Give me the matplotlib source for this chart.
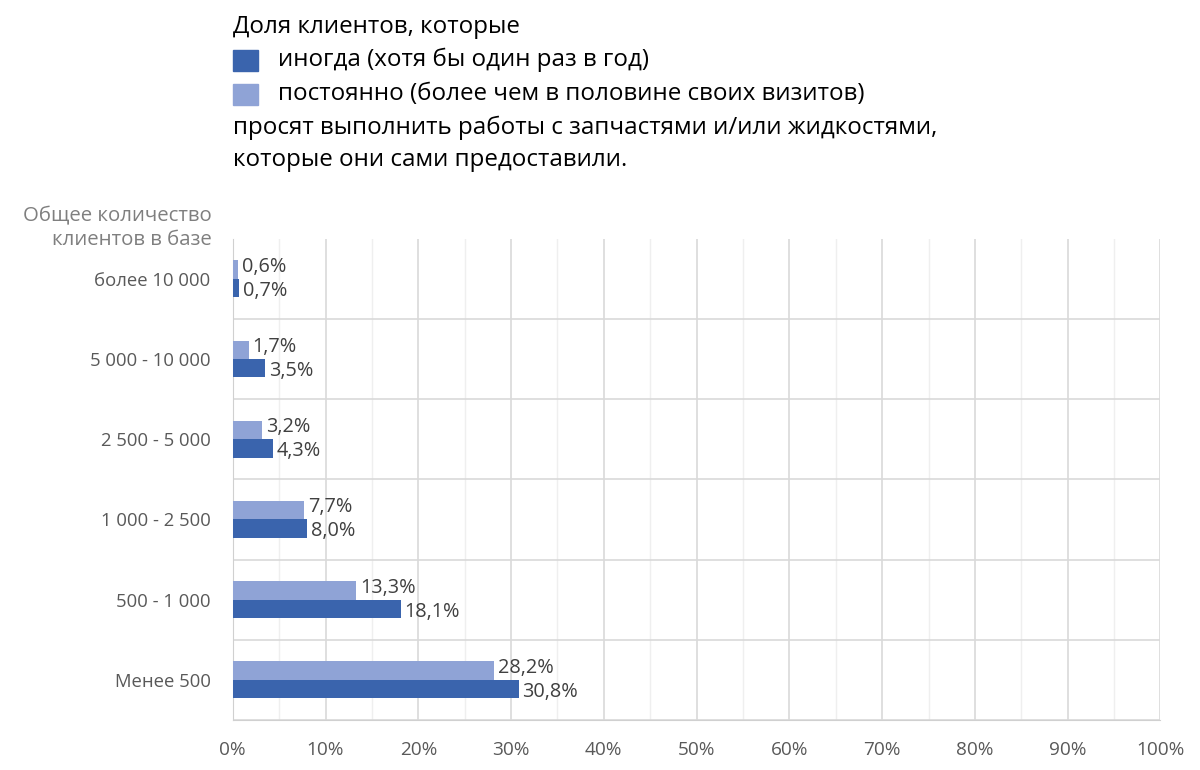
import matplotlib.pyplot as plt
import matplotlib.patches as mpatches
from matplotlib.ticker import MultipleLocator, FuncFormatter

# ---- данные ----
categories = ["более 10 000", "5 000 - 10 000", "2 500 - 5 000",
              "1 000 - 2 500", "500 - 1 000", "Менее 500"]
sometimes = [0.7, 3.5, 4.3, 8.0, 18.1, 30.8]   # иногда
constantly = [0.6, 1.7, 3.2, 7.7, 13.3, 28.2]  # постоянно

DARK = "#3a64ad"
LIGHT = "#8fa3d6"
GRAY = "#595959"

plt.rcParams["font.family"] = ["Open Sans", "DejaVu Sans"]

fig = plt.figure(figsize=(12, 7.7), dpi=100)
ax = fig.add_axes([0.194, 0.065, 0.773, 0.625])

n = len(categories)
h = 0.23
ys = [n - 1 - i for i in range(n)]  # первая категория сверху

ax.barh([y - h / 2 for y in ys], sometimes, height=h, color=DARK, zorder=3)
ax.barh([y + h / 2 for y in ys], constantly, height=h, color=LIGHT, zorder=3)

def fmt(v):
    return f"{v:.1f}%".replace(".", ",")

# подписи значений
for y, a, b in zip(ys, sometimes, constantly):
    ax.text(a + 0.4, y - h / 2 - 0.035, fmt(a), va="center", ha="left",
            fontsize=14.3, color="#404040", zorder=4)
    ax.text(b + 0.4, y + h / 2 + 0.035, fmt(b), va="center", ha="left",
            fontsize=14.3, color="#404040", zorder=4)

ax.set_xlim(0, 100)
ax.set_ylim(-0.5, n - 0.5)
ax.xaxis.set_major_locator(MultipleLocator(10))
ax.xaxis.set_minor_locator(MultipleLocator(5))
ax.xaxis.set_major_formatter(FuncFormatter(lambda v, p: f"{v:.0f}%"))
ax.set_yticks(ys)
ax.set_yticklabels(categories)
ax.set_yticks([i + 0.5 for i in range(-1, n - 1)], minor=True)

ax.grid(axis="x", which="major", color="#d9d9d9", lw=1.2, zorder=0)
ax.grid(axis="x", which="minor", color="#efefef", lw=1.0, zorder=0)
ax.grid(axis="y", which="minor", color="#d9d9d9", lw=1.2, zorder=0)

for s in ["top", "right"]:
    ax.spines[s].set_visible(False)
ax.spines["left"].set_color("#d0d0d0")
ax.spines["bottom"].set_color("#d0d0d0")
ax.tick_params(axis="both", which="both", length=0, colors=GRAY)
ax.tick_params(axis="x", labelsize=13.7, pad=15)
ax.tick_params(axis="y", labelsize=13.3, pad=16)

# заголовок оси категорий
fig.text(212 / 1200, 1 - 250 / 770, "Общее количество\nклиентов в базе", ha="right",
         va="bottom", fontsize=14.7, color="#7f7f7f", linespacing=1.25)

# заголовок с легендой
FS = 17.4
tx = 233 / 1200
fig.text(tx, 1 - 27 / 770, "Доля клиентов, которые", fontsize=FS, va="center", color="black")
fig.patches.append(mpatches.Rectangle((tx, 1 - 71 / 770), 25 / 1200, 21 / 770,
                                      transform=fig.transFigure, color=DARK))
fig.text(278 / 1200, 1 - 60 / 770, "иногда (хотя бы один раз в год)", fontsize=FS,
         va="center", color="black")
fig.patches.append(mpatches.Rectangle((tx, 1 - 105 / 770), 25 / 1200, 21 / 770,
                                      transform=fig.transFigure, color=LIGHT))
fig.text(278 / 1200, 1 - 94 / 770, "постоянно (более чем в половине своих визитов)",
         fontsize=FS, va="center", color="black")
fig.text(tx, 1 - 128 / 770, "просят выполнить работы с запчастями и/или жидкостями,",
         fontsize=FS, va="center", color="black")
fig.text(tx, 1 - 160 / 770, "которые они сами предоставили.", fontsize=FS,
         va="center", color="black")

fig.savefig("out.png", dpi=100)
